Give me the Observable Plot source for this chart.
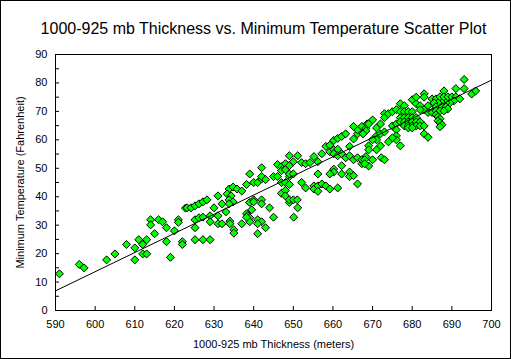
<!DOCTYPE html>
<html><head><meta charset="utf-8">
<script src="https://cdn.jsdelivr.net/npm/d3@7"></script>
<script src="https://cdn.jsdelivr.net/npm/@observablehq/plot@0.6"></script>
<style>
html,body{margin:0;padding:0;background:#fff;}
#chart svg{display:block;outline:1px solid #000;outline-offset:-1px;}
</style></head><body><div id="chart"></div>
<script>
const title = "1000-925 mb Thickness vs. Minimum Temperature Scatter Plot";
const xLabel = "1000-925 mb Thickness (meters)";
const yLabel = "Minimum Temperature (Fahrenheit)";
const xTicks = [590,600,610,620,630,640,650,660,670,680,690,700];
const yTicks = [0,10,20,30,40,50,60,70,80,90];
const yMinorTicks = [5,15,25,35,45,55,65,75,85];

const thickness = [
591,596,597.2,602.9,605,607.9,610,610,611,612,612,613,613,614,614,615,616,617,618,618,619,620,621,621,622,622,622.8,
625.2,627.2,629,625.2,625.2,626.2,627.2,629,629,630,631,631,632,632,633,631,633.8,634.8,635.8,633.3,634.3,633.8,634.8,633.8,634,634,635,635,637,637,638.2,639,639,638.2,638.5,639,639,638.2,639.5,640,640,640,641,641,642,641,642,642,642,642,642,643,643,641,644,645,645,646,646,647,647,647,647,648,648,648,648,649,649,649,648.6,623.2,624.2,625.2,626.2,627.2,628.2,
650.1,651.1,649,650,651,653.1,655.2,655.2,656.2,656.2,657.2,658.2,659.2,661.2,656.2,652.1,660.2,660.2,659.2,662.2,662.2,664.2,664.2,665.2,666.2,667.3,668.3,649,651.1,650,652.1,653.1,654.2,655.2,656.2,657.2,658.2,659.2,660.2,661.2,662.2,663.2,659.2,660.2,661.2,660.2,661.2,662.2,663.2,664.2,665.2,666.2,667.3,664.2,665.2,666.2,667.3,666.2,667.3,665.2,668.3,648,649,648,649,650,
668.3,667.6,668.6,669,669,670,668,669,668,671,671,672,672,671,672,671,670,673,672.2,673,670,669,673,673,674,675,676,677,678,675,676,676,676,676,677,675,674,
677,678,679,680,677,678,679,680,681,677,678,679,680,681,682,678,679,680,681,682,683,679,680,
680,681,681,683,683,682,683,682,684,684,685,683,684,
693.1,691,693.1,688,695,696,685,686,687,688,689,690,691,692,690.5,689.5,688.5,687.5,686.5,685.5,686,687.5,688.5,689,686,687,688,686,686.5,687,686.5,687,687.5,687
];
const minTemp = [
12.9,16.2,15.0,17.8,19.9,23.2,17.8,22,24.9,23.2,19.9,19.9,24.9,31.9,30.1,27,31.9,31.2,29.1,24.2,18.7,28,31.9,31,24.2,23.2,36,
24.9,24.9,24.9,29.1,31.9,32.6,32.8,33.3,31.2,36.1,33.3,30.5,30.5,37.5,34.7,40.3,42.7,43.4,42.7,41,40.3,38.9,38.2,37.5,31.4,30.5,28.4,27.2,30.5,42,44.3,48,38,34,33.3,32.6,31.2,32.8,35.4,38.9,38.2,45,45,31.9,31.2,30.5,38.9,37.5,50.2,46.2,47.1,46,29.1,27,36.1,47.1,32.8,51.3,47.1,50.6,49.2,45,41.2,42.2,40.3,49.9,45,47.1,44.3,38,51,36.1,36.1,36.8,37.5,38.2,38.9,
32.8,36.1,38.9,38.9,38.9,43.1,43.8,42.7,43.8,41.9,44.5,43.8,42.7,43.1,48,45,49.7,48.7,48,50.9,48,48.7,47.1,47.4,44.5,51.6,54.1,54.4,54.4,52.3,52,51.6,52,54.1,52.3,55.1,57.7,58.1,59.8,60.5,61.2,62.1,55.8,56.5,56.7,55.1,54.4,55.1,53.7,54.4,53,53.7,53,57.7,60.3,62.1,62.8,63.5,64.7,64.7,64,51.6,50.9,49.5,48,48,
63.1,62.1,65.6,57.9,56.5,53,53,50.8,51.6,64.2,61.4,65.6,62.1,60,57.9,56.5,60,62.8,53.7,53,67,65.6,69.2,67.8,69.2,69.9,70.6,72.7,72,64.9,65.6,63.5,61.4,60,57.9,60.7,59.3,
69.9,69.9,69.9,69.9,67.8,67.8,67.8,67.8,67.8,66.3,66.3,66.3,66.3,66.3,66.3,64.9,64.9,64.9,64.9,64.9,64.9,64.2,64.2,
74.1,72.7,75,76.2,75,72,70.6,70.6,72,69.6,69.6,62.1,60.9,
81.2,78,78,77.2,76.1,77.2,74.4,74.4,75.1,75.1,75.1,75.1,75.1,74.4,73.7,73,73,73,73,73,71.6,71.6,71.6,70.9,70.2,70.2,70.2,68.8,68.1,67.4,66.7,66,65.3,64.6
];
const fitX = [590, 700];
const fitY = [6.9, 81.0];

const points = thickness.map((x, i) => ({x, y: minTemp[i]}));
const fit = fitX.map((x, i) => ({x, y: fitY[i]}));

const chart = Plot.plot({
  width: 511, height: 359,
  marginLeft: 55, marginRight: 20, marginTop: 54, marginBottom: 49,
  style: {fontFamily: "'Liberation Sans', Arial, sans-serif", fontSize: "11px", color: "#000", background: "#fff", overflow: "visible"},
  x: {domain: [590, 700]},
  y: {domain: [0, 90]},
  marks: [
    Plot.frame({stroke: "#000"}),
    Plot.tickX(xTicks, {x: d => d, stroke: "#000", insetTop: 252}),
    Plot.tickY(yTicks.concat(yMinorTicks), {y: d => d, stroke: "#000", insetRight: 432}),
    Plot.axisX({ticks: xTicks, tickSize: 0, tickPadding: 10, tickFormat: d => String(d), fontSize: 11, label: xLabel, labelAnchor: "center", labelArrow: "none", labelOffset: 37}),
    Plot.axisY({ticks: yTicks, tickSize: 0, tickPadding: 8, tickFormat: d => String(d), fontSize: 11, label: yLabel, labelAnchor: "center", labelArrow: "none", labelOffset: 39}),
    Plot.dot(points, {x: "x", y: "y", symbol: "diamond2", r: 3.6, fill: "#00ff00", stroke: "#000", strokeWidth: 1}),
    Plot.line(fit, {x: "x", y: "y", stroke: "#000", strokeWidth: 1}),
    Plot.text([title], {text: d => d, frameAnchor: "top", dy: -32, dx: -10, fontSize: 16, fill: "#000"})
  ]
});
document.getElementById("chart").appendChild(chart);
</script></body></html>
